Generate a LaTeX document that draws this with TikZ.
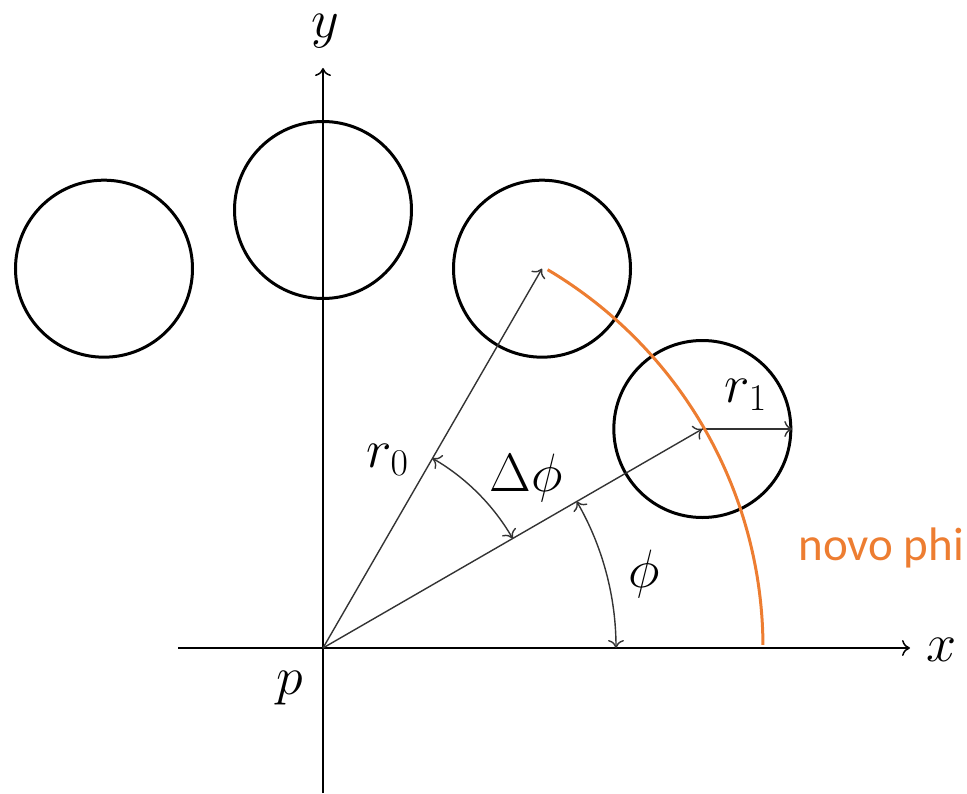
\documentclass[tikz,border=0pt]{standalone}
\usepackage{fix-cm}
\usepackage{fontspec}
\newfontfamily\calib{Carlito}
\usetikzlibrary{arrows.meta}
\definecolor{novo}{HTML}{ED7D31}
\begin{document}
\begin{tikzpicture}[x=0.5pt,y=0.5pt,
  >={To[length=4pt,width=8pt]},
  ax/.style={line width=0.75pt,->},
  ring/.style={circle,draw,line width=1.5pt,minimum size=88.5pt,inner sep=0pt},
  vec/.style={line width=0.7pt,draw=black!80,->},
  lbl/.style={font=\fontsize{27}{32}\selectfont,inner sep=0pt},
]
\useasboundingbox (-323,-145) rectangle (644,648);
\coordinate (p) at (0,0);
\coordinate (xs) at (-145,0); \coordinate (xe) at (587,0);
\coordinate (ys) at (0,-145); \coordinate (ye) at (0,580);
\draw[ax] (xs) -- (xe);
\draw[ax] (ys) -- (ye);
\node[ring] (c1) at (120:438) {};
\node[ring] (c2) at (90:438) {};
\node[ring] (c3) at (60:438) {};
\node[ring] (c4) at (30:438) {};
\draw[vec] (p) -- (c3.center);
\draw[vec] (p) -- (c4.center);
\draw[vec] (c4.center) -- (c4.east);
\draw[vec,<->] (60:219) arc[start angle=60,end angle=30,radius=109.5pt];
\draw[vec,<->] (30:293) arc[start angle=30,end angle=0,radius=146.5pt];
\draw[line width=1.5pt,draw=novo] (59.3:440) arc[start angle=59.3,end angle=0.4,radius=220pt];
\node[lbl] (lr0) at (65,188) {$r_0$};
\node[lbl] (lr1) at (423,253) {$r_1$};
\node[lbl] (ldphi) at (203,170) {$\Delta\phi$};
\node[lbl] (lphi) at (321,74) {$\phi$};
\node[lbl] (lp) at (-33,-40) {$p$};
\node[lbl] (ly) at (2,617) {$y$};
\node[lbl] (lx) at (619,-2) {$x$};
\node[font=\calib\fontsize{23.5}{28}\selectfont,text=novo,anchor=base west,inner sep=0pt] (np) at (475,88) {novo phi};
\end{tikzpicture}
\end{document}
